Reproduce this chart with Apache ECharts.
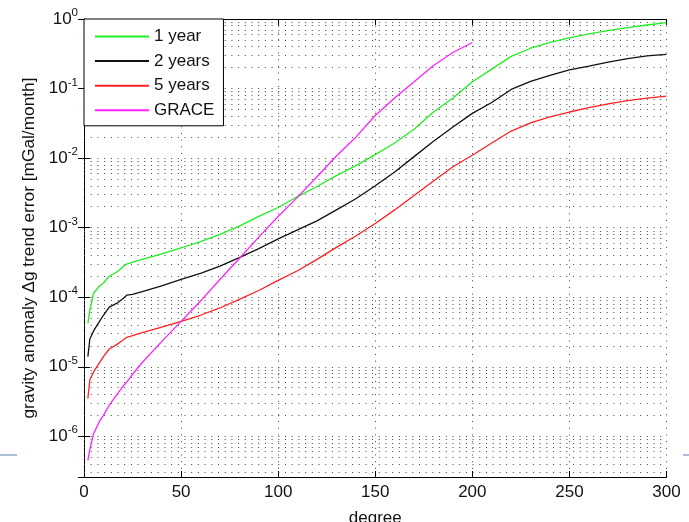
<!DOCTYPE html>
<html>
<head>
<meta charset="utf-8">
<script src="https://cdn.jsdelivr.net/npm/echarts@6/dist/echarts.min.js"></script>
<style>
html,body{margin:0;padding:0;background:#fff;}
#chart{width:689px;height:522px;}
</style>
</head>
<body>
<div id="chart"></div>
<script>
const degrees = [2,3,5,8,10,13,17,20,22,25,30,40,50,60,70,80,90,100,110,120,130,140,150,160,170,180,190,200,210,220,230,240,250,260,270,280,290,300];
const oneYear = [4.2e-5,6.5e-5,1.15e-4,1.45e-4,1.6e-4,2.0e-4,2.3e-4,2.75e-4,3.0e-4,3.2e-4,3.5e-4,4.2e-4,5.1e-4,6.3e-4,8.0e-4,1.05e-3,1.45e-3,1.95e-3,2.8e-3,3.9e-3,5.6e-3,7.8e-3,1.12e-2,1.65e-2,2.6e-2,4.6e-2,7.3e-2,0.125,0.19,0.29,0.38,0.46,0.535,0.61,0.68,0.75,0.82,0.89];
const twoYears = [1.4e-5,2.5e-5,3.3e-5,4.5e-5,5.5e-5,7.2e-5,8.2e-5,9.5e-5,1.07e-4,1.1e-4,1.2e-4,1.45e-4,1.8e-4,2.2e-4,2.8e-4,3.7e-4,5.0e-4,6.9e-4,9.3e-4,1.25e-3,1.8e-3,2.6e-3,4.0e-3,6.3e-3,1.05e-2,1.75e-2,2.8e-2,4.4e-2,6.3e-2,0.097,0.127,0.155,0.185,0.21,0.24,0.27,0.295,0.31];
const fiveYears = [3.5e-6,6.5e-6,8.5e-6,1.15e-5,1.4e-5,1.8e-5,2.1e-5,2.4e-5,2.65e-5,2.8e-5,3.1e-5,3.7e-5,4.5e-5,5.5e-5,7.0e-5,9.3e-5,1.25e-4,1.75e-4,2.4e-4,3.5e-4,5.2e-4,7.6e-4,1.15e-3,1.8e-3,2.9e-3,4.7e-3,7.5e-3,1.1e-2,1.65e-2,2.45e-2,3.2e-2,3.9e-2,4.6e-2,5.3e-2,6.0e-2,6.7e-2,7.3e-2,7.8e-2];
const grace = [4.5e-7,6.5e-7,1.1e-6,1.65e-6,2.0e-6,2.8e-6,4.0e-6,5.2e-6,6.0e-6,7.8e-6,1.15e-5,2.3e-5,4.5e-5,8.8e-5,1.8e-4,3.6e-4,7.3e-4,1.45e-3,2.75e-3,5.4e-3,1.07e-2,2.0e-2,4.1e-2,7.3e-2,0.125,0.215,0.33,0.46];
const seriesNames = ['1 year','2 years','5 years','GRACE'];
const seriesColors = ['#22ee22','#111111','#ff2020','#ff22ff'];

const FONT = '"Liberation Sans", Arial, Helvetica, sans-serif';
function pairs(vals){ return vals.map((v,i)=>[degrees[i], v]); }
const allVals = [oneYear, twoYears, fiveYears, grace];

// minor horizontal grid lines (2..9 x 10^k)
const minorGrid = [];
for (let k = -7; k <= -1; k++) {
  for (let m = 2; m <= 9; m++) {
    const v = m * Math.pow(10, k);
    if (v > 2.6e-7 && v < 1) minorGrid.push({yAxis: v});
  }
}
const dotted = {color:'#444', width:1, type:[1,5.7]};

const series = seriesNames.map((n,i)=>({
  name:n, type:'line', data:pairs(allVals[i]), symbol:'none', showSymbol:false,
  lineStyle:{color:seriesColors[i], width:1.3}, itemStyle:{color:seriesColors[i]},
  z:5, animation:false
}));
series.push({
  name:'grid', type:'line', data:[], silent:true, animation:false,
  markLine:{silent:true, precision:12, symbol:['none','none'], label:{show:false},
    lineStyle:dotted, data:minorGrid, animation:false}
});

const chart = echarts.init(document.getElementById('chart'), null, {renderer:'canvas'});
chart.setOption({
  backgroundColor:'#fff',
  animation:false,
  textStyle:{fontFamily:FONT},
  grid:{left:84, right:22.5, top:19, bottom:45, outerBoundsMode:'none', containLabel:false},
  legend:{
    data:seriesNames, orient:'vertical', left:84, top:19,
    backgroundColor:'#fff', borderColor:'#000', borderWidth:1,
    padding:[9,9,7,10], itemWidth:54, itemHeight:17, itemGap:7.6,
    itemStyle:{opacity:0},
    textStyle:{fontSize:17, color:'#111', fontFamily:FONT, lineHeight:17},
    selectedMode:false, z:10
  },
  xAxis:[{
    type:'value', min:0, max:300, interval:50,
    name:'degree', nameLocation:'middle', nameGap:33,
    nameTextStyle:{fontSize:17, color:'#111', fontFamily:FONT},
    axisLine:{show:true, lineStyle:{color:'#000', width:1}},
    axisTick:{show:true, inside:true, length:6, lineStyle:{color:'#000'}},
    axisLabel:{fontSize:17, color:'#111', margin:7, fontFamily:FONT},
    splitLine:{show:true, lineStyle:dotted}
  },{
    type:'value', min:0, max:300, interval:50, position:'top',
    axisLine:{show:true, lineStyle:{color:'#000', width:1}},
    axisTick:{show:true, inside:true, length:6, lineStyle:{color:'#000'}},
    axisLabel:{show:false}, splitLine:{show:false}
  }],
  yAxis:[{
    type:'log', logBase:10, min:2.6e-7, max:1,
    name:'gravity anomaly \u0394g trend error [mGal/month]',
    nameLocation:'middle', nameGap:33,
    nameTextStyle:{fontSize:17.3, color:'#111', fontFamily:FONT},
    axisLine:{show:true, lineStyle:{color:'#000', width:1}},
    axisTick:{show:true, inside:true, length:6, lineStyle:{color:'#000'}},
    axisLabel:{
      margin:6, color:'#111', fontFamily:FONT,
      formatter:function(v){
        const l = Math.log10(v); const e = Math.round(l);
        if (Math.abs(l - e) > 1e-6) return '';
        return '{b|10}{s|' + e + '}';
      },
      rich:{
        b:{fontSize:17, lineHeight:24, verticalAlign:'middle', color:'#111', fontFamily:FONT},
        s:{fontSize:11.5, lineHeight:13, verticalAlign:'top', color:'#111', fontFamily:FONT}
      }
    },
    splitLine:{show:true, lineStyle:dotted}
  },{
    type:'log', logBase:10, min:2.6e-7, max:1, position:'right',
    axisLine:{show:true, lineStyle:{color:'#000', width:1}},
    axisTick:{show:true, inside:true, length:6, lineStyle:{color:'#000'}},
    axisLabel:{show:false}, splitLine:{show:false}
  }],
  graphic:[
    {type:'line', shape:{x1:0,y1:455,x2:17,y2:455}, style:{stroke:'#8ea8c8', lineWidth:1.5}, silent:true},
    {type:'line', shape:{x1:683,y1:455,x2:689,y2:455}, style:{stroke:'#8ea8c8', lineWidth:1.5}, silent:true}
  ],
  series:series
});
</script>
</body>
</html>
